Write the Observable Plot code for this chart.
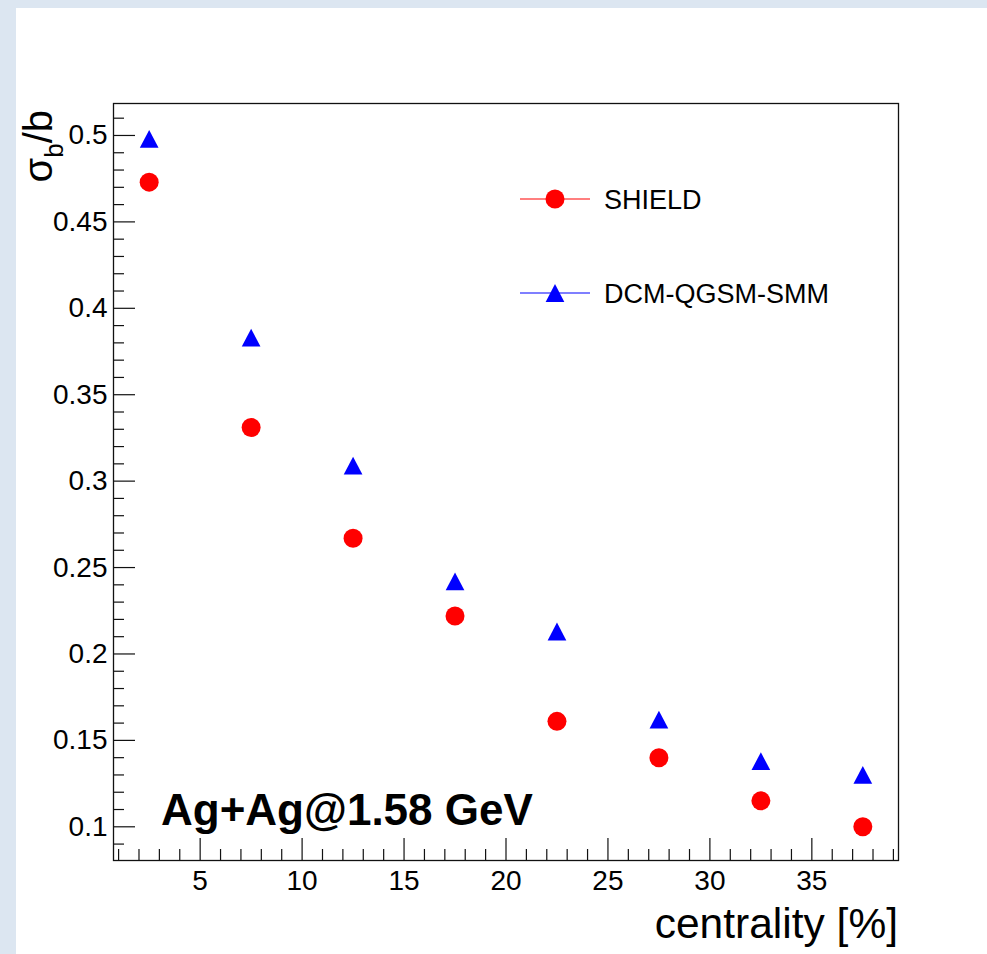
<!DOCTYPE html>
<html>
<head>
<meta charset="utf-8">
<script src="https://cdn.jsdelivr.net/npm/d3@7"></script>
<script src="https://cdn.jsdelivr.net/npm/@observablehq/plot@0.6"></script>
<style>
  body { margin: 0; background: #dce6f1; width: 987px; height: 954px; overflow: hidden; position: relative; }
  #paper { position: absolute; left: 16px; top: 8px; width: 971px; height: 946px; background: white; }
  #chart { position: absolute; left: 0; top: 0; }
</style>
</head>
<body>
<div id="paper"></div>
<div id="chart"></div>
<script>
// ---- data ----
const centrality = [2.5, 7.5, 12.5, 17.5, 22.5, 27.5, 32.5, 37.5];
const shield = [0.473, 0.331, 0.267, 0.222, 0.161, 0.140, 0.115, 0.100];
const dcm = [0.498, 0.383, 0.309, 0.242, 0.213, 0.162, 0.138, 0.130];
const seriesNames = ["SHIELD", "DCM-QGSM-SMM"];
const xTicks = [5, 10, 15, 20, 25, 30, 35];
const xTickLabels = ["5", "10", "15", "20", "25", "30", "35"];
const xMinor = [1,2,3,4,6,7,8,9,11,12,13,14,16,17,18,19,21,22,23,24,26,27,28,29,31,32,33,34,36,37,38,39];
const yTicks = [0.1, 0.15, 0.2, 0.25, 0.3, 0.35, 0.4, 0.45, 0.5];
const yTickLabels = ["0.1", "0.15", "0.2", "0.25", "0.3", "0.35", "0.4", "0.45", "0.5"];
const yMinor = [0.09,0.11,0.12,0.13,0.14,0.16,0.17,0.18,0.19,0.21,0.22,0.23,0.24,0.26,0.27,0.28,0.29,0.31,0.32,0.33,0.34,0.36,0.37,0.38,0.39,0.41,0.42,0.43,0.44,0.46,0.47,0.48,0.49,0.51];
const annotation = "Ag+Ag@1.58 GeV";
const xTitle = "centrality [%]";

// ---- layout ----
const W = 987, H = 954;
const mL = 113, mT = 103, mR = 89, mB = 94;
const plotW = W - mL - mR, plotH = H - mT - mB;
const font = "'Liberation Sans', Arial, Helvetica, sans-serif";

const shieldData = centrality.map((c, i) => ({x: c, y: shield[i]}));
const dcmData = centrality.map((c, i) => ({x: c, y: dcm[i]}));

const tri = {
  draw(ctx, size) {
    const r = Math.sqrt(size / Math.PI);
    ctx.moveTo(0, -0.95 * r);
    ctx.lineTo(r, 0.95 * r);
    ctx.lineTo(-r, 0.95 * r);
    ctx.closePath();
  }
};

const svg = Plot.plot({
  width: W, height: H,
  marginLeft: mL, marginTop: mT, marginRight: mR, marginBottom: mB,
  style: {background: "transparent", fontFamily: font, color: "black"},
  x: {domain: [0.75, 39.25]},
  y: {domain: [0.0805, 0.5185]},
  marks: [
    Plot.tickY(yMinor, {y: d => d, insetRight: plotW - 11, stroke: "#111", strokeWidth: 1.2}),
    Plot.tickY(yTicks, {y: d => d, insetRight: plotW - 22, stroke: "#111", strokeWidth: 1.2}),
    Plot.tickX(xMinor, {x: d => d, insetTop: plotH - 11, stroke: "#111", strokeWidth: 1.2}),
    Plot.tickX(xTicks, {x: d => d, insetTop: plotH - 22, stroke: "#111", strokeWidth: 1.2}),
    Plot.axisY(yTicks, {tickSize: 0, tickPadding: 6, fontSize: 28, label: null,
      tickFormat: d => yTickLabels[yTicks.indexOf(d)]}),
    Plot.axisX(xTicks, {tickSize: 0, tickPadding: 10, fontSize: 28, label: null,
      tickFormat: d => xTickLabels[xTicks.indexOf(d)]}),
    Plot.frame({stroke: "#111", strokeWidth: 1.3}),
    Plot.dot(dcmData, {x: "x", y: "y", symbol: tri, r: 9.35, fill: "#0000ff", stroke: "none"}),
    Plot.dot(shieldData, {x: "x", y: "y", symbol: "circle", r: 9.5, fill: "#ff0000", stroke: "none"})
  ]
});
document.getElementById("chart").append(svg);

// ---- annotations, titles, legend ----
const s = d3.select(svg);
const g = s.append("g").attr("font-family", font).attr("fill", "black").attr("text-anchor", "start");

// y title: sigma_b / b
const yt = g.append("text")
  .attr("transform", "translate(52,110) rotate(-90)")
  .attr("text-anchor", "end")
  .attr("font-size", 40);
yt.append("tspan").text("σ");
yt.append("tspan").attr("font-size", 26).attr("dy", 11).text("b");
yt.append("tspan").attr("dy", -11).text("/b");

// x title
g.append("text").attr("x", 898).attr("y", 938).attr("text-anchor", "end")
  .attr("font-size", 42.5).text(xTitle);

// annotation
g.append("text").attr("x", 161).attr("y", 825).attr("font-size", 44)
  .attr("text-anchor", "start").attr("font-weight", "bold").text(annotation);

// legend
const legendRows = [
  {name: seriesNames[0], color: "#ff0000", y: 199, shape: "circle"},
  {name: seriesNames[1], color: "#0000ff", y: 293, shape: "tri"}
];
legendRows.forEach(row => {
  g.append("line").attr("x1", 520).attr("x2", 590).attr("y1", row.y).attr("y2", row.y)
    .attr("stroke", row.color).attr("stroke-width", 1.2);
  if (row.shape === "circle") {
    g.append("circle").attr("cx", 555).attr("cy", row.y).attr("r", 9.5).attr("fill", row.color);
  } else {
    const p = d3.path();
    tri.draw(p, Math.PI * 9.35 * 9.35);
    g.append("path").attr("d", p.toString()).attr("transform", `translate(555,${row.y})`).attr("fill", row.color);
  }
  g.append("text").attr("x", 604).attr("y", row.y + 9.5).attr("font-size", 27)
    .attr("text-anchor", "start").text(row.name);
});
</script>
</body>
</html>
